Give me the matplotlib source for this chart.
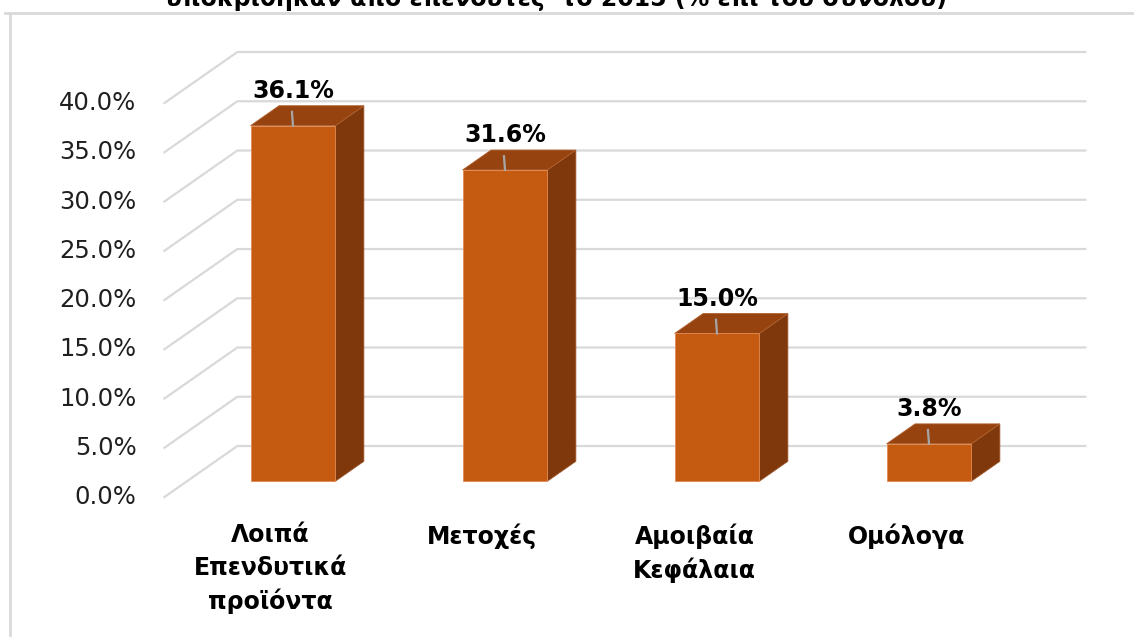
import matplotlib
matplotlib.use("Agg")
import matplotlib.pyplot as plt
from matplotlib.patches import Polygon
from matplotlib.lines import Line2D

categories = ["Λοιπά\nΕπενδυτικά\nπροϊόντα", "Μετοχές", "Αμοιβαία\nΚεφάλαια", "Ομόλογα"]
values = [36.1, 31.6, 15.0, 3.8]
yticks = [0, 5, 10, 15, 20, 25, 30, 35, 40]
title = "υποκρίθηκαν από επενδυτές  το 2015 (% επί του συνόλου)"

FRONT = "#C55A11"
TOP = "#97430F"
SIDE = "#7F380B"
GRID = "#D9D9D9"

# depth vector (full depth of the plot box) in data units
DX, DY = 0.344, 5.18
D0, D1 = 0.31, 0.70   # bar front / back depth
HW = 0.2              # half bar width


def proj(x, y, d):
    return (x + d * DX, y + d * DY)


fig = plt.figure(figsize=(11.34, 6.37), dpi=100)
ax = fig.add_axes([0, 0, 1, 1])
ax.axis("off")
ax.set_xlim(-1.2755, 4.0736)
ax.set_ylim(-14.21, 50.46)

n = len(categories)
xl, xr = -0.5, n - 0.5

# gridlines: slanted floor part + back wall
for t in yticks:
    p0 = proj(xl, t, 0)
    p1 = proj(xl, t, 1)
    p2 = proj(xr, t, 1)
    ax.plot([p0[0], p1[0], p2[0]], [p0[1], p1[1], p2[1]], color=GRID, lw=1.6,
            zorder=1, solid_joinstyle="miter")
    ax.text(xl - 0.132, t, f"{t:.1f}%", ha="right", va="center",
            fontsize=17.5, color="#1F1F1F")

for i, v in enumerate(values):
    side = [proj(i + HW, 0, D0), proj(i + HW, v, D0), proj(i + HW, v, D1), proj(i + HW, 0, D1)]
    top = [proj(i - HW, v, D0), proj(i + HW, v, D0), proj(i + HW, v, D1), proj(i - HW, v, D1)]
    front = [proj(i - HW, 0, D0), proj(i + HW, 0, D0), proj(i + HW, v, D0), proj(i - HW, v, D0)]
    ax.add_patch(Polygon(side, closed=True, facecolor=SIDE, edgecolor="#A0552A", lw=0.6, zorder=3))
    ax.add_patch(Polygon(top, closed=True, facecolor=TOP, edgecolor="#B0602E", lw=0.6, zorder=3))
    ax.add_patch(Polygon(front, closed=True, facecolor=FRONT, edgecolor="#E08A55", lw=0.6, zorder=4))

    cx, cy = proj(i, v, D0)
    ax.plot([cx, cx - 0.005], [cy, cy + 1.4], color="#A6A6A6", lw=1.6, zorder=5)
    ax.text(cx, cy + 3.5, f"{v:.1f}%", ha="center", va="center",
            fontsize=17, fontweight="bold", color="black", zorder=6)

    ax.text(i, -2.65, categories[i], ha="center", va="top", linespacing=1.45,
            fontsize=17, fontweight="bold", color="black")

# chart frame (partly outside the picture)
fig.add_artist(Line2D([5 / 1134, 1], [1 - 13 / 637] * 2, transform=fig.transFigure,
                      color=GRID, lw=2))
fig.add_artist(Line2D([10 / 1134] * 2, [0, 1 - 13 / 637], transform=fig.transFigure,
                      color=GRID, lw=2))

fig.text(0.491, 1 - 6 / 637, title, ha="center", va="baseline",
         fontsize=17, fontweight="bold", color="black")

fig.savefig("out.png", dpi=100, facecolor="white")
